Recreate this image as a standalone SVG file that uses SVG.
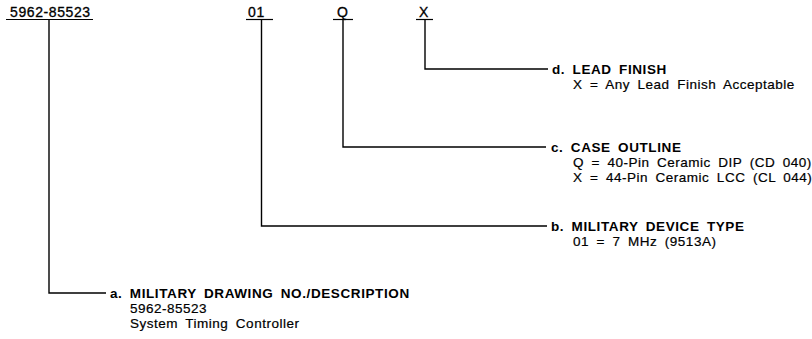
<svg xmlns="http://www.w3.org/2000/svg" width="812" height="339" viewBox="0 0 812 339">
<style>
text{font-family:"Liberation Sans",Arial,sans-serif;fill:#000}
.top{font-size:14px;letter-spacing:0.6px;stroke:#000;stroke-width:0.3px}
.h{font-size:13.5px;font-weight:bold;letter-spacing:0.6px;word-spacing:3px}
.d{font-size:13.5px;letter-spacing:0.5px;word-spacing:3.3px;stroke:#000;stroke-width:0.2px}
.ln{stroke:#000;stroke-width:1.4;fill:none}
.ul{stroke:#000;stroke-width:1.2}
</style>
<rect width="812" height="339" fill="#fff"/>
<g id="connectors">
<polyline class="ln" points="49,20 49,293 106,293"/>
<polyline class="ln" points="261.5,20 261.5,226 547,226"/>
<polyline class="ln" points="343,20 343,147 546,147"/>
<polyline class="ln" points="425,20 425,69 548,69"/>
</g>
<g id="code-drawing">
<text class="top" x="10" y="17">5962-85523</text>
<line class="ul" x1="6" y1="19.5" x2="93" y2="19.5"/>
</g>
<g id="code-device">
<text class="top" x="248" y="17">01</text>
<line class="ul" x1="246" y1="19.5" x2="273" y2="19.5"/>
</g>
<g id="code-case">
<text class="top" x="337" y="17">Q</text>
<line class="ul" x1="333" y1="19.5" x2="353" y2="19.5"/>
</g>
<g id="code-lead">
<text class="top" x="419" y="17">X</text>
<line class="ul" x1="416" y1="19.5" x2="433" y2="19.5"/>
</g>
<g id="desc-d">
<text class="h" x="552" y="74">d. LEAD FINISH</text>
<text class="d" x="573" y="89">X = Any Lead Finish Acceptable</text>
</g>
<g id="desc-c">
<text class="h" x="551" y="152">c. CASE OUTLINE</text>
<text class="d" x="573" y="167">Q = 40-Pin Ceramic DIP (CD 040)</text>
<text class="d" x="573" y="182">X = 44-Pin Ceramic LCC (CL 044)</text>
</g>
<g id="desc-b">
<text class="h" x="551" y="231">b. MILITARY DEVICE TYPE</text>
<text class="d" x="573" y="246">01 = 7 MHz (9513A)</text>
</g>
<g id="desc-a">
<text class="h" x="110" y="298">a. MILITARY DRAWING NO./DESCRIPTION</text>
<text class="d" x="130" y="313">5962-85523</text>
<text class="d" x="130" y="328">System Timing Controller</text>
</g>
</svg>
